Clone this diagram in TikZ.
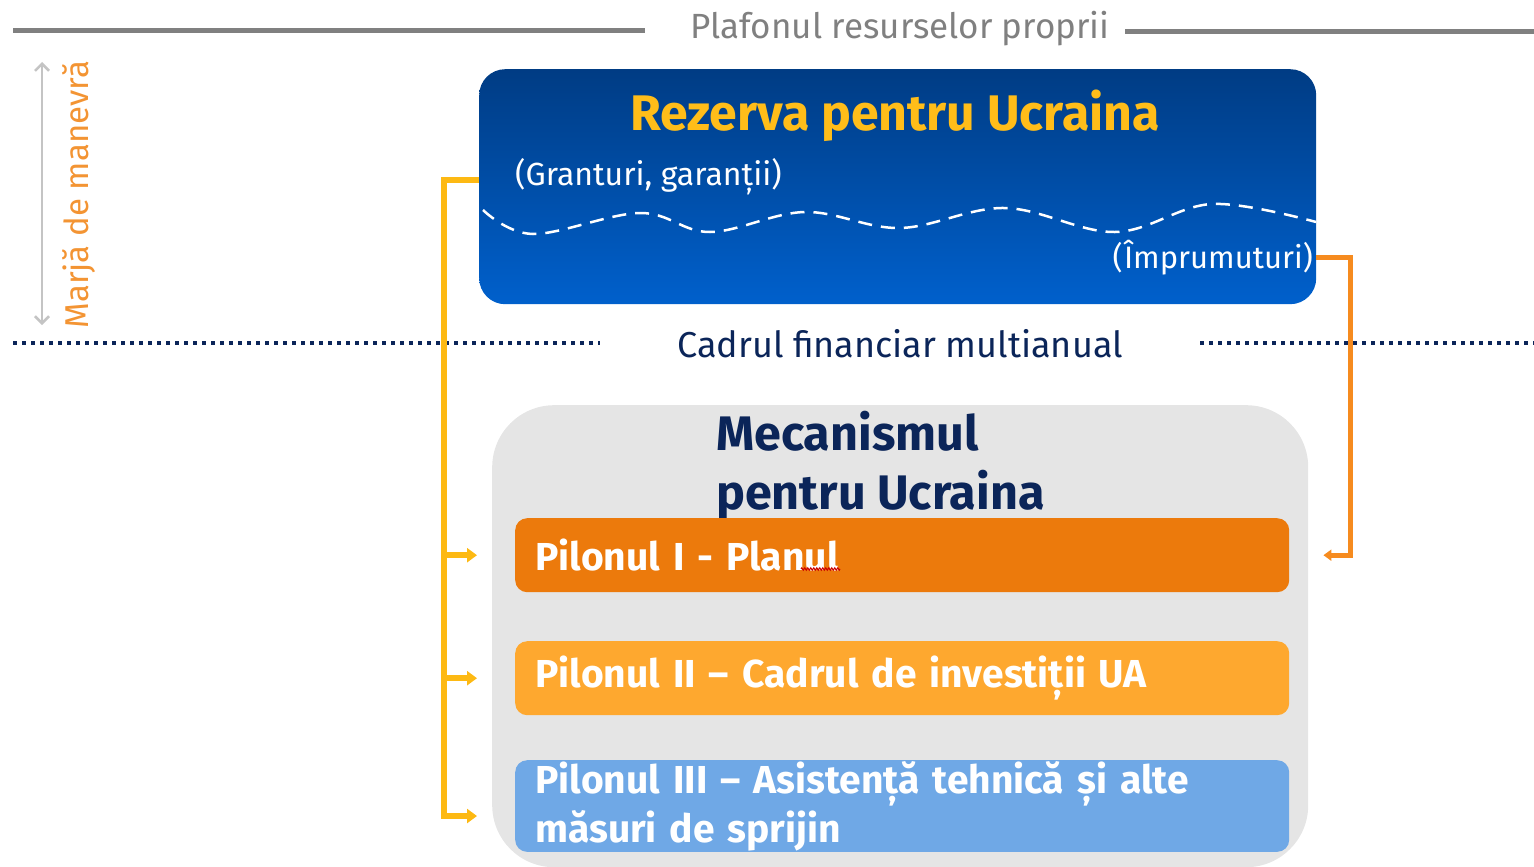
\documentclass[tikz,border=0pt]{standalone}
\usepackage{fontspec}
\setmainfont{Fira Sans}
\usetikzlibrary{arrows.meta,calc,decorations.pathmorphing}
\definecolor{gline}{HTML}{808080}
\definecolor{glight}{HTML}{C4C4C4}
\definecolor{morange}{HTML}{F39433}
\definecolor{btop}{HTML}{003C84}
\definecolor{bbot}{HTML}{0060CC}
\definecolor{ylw}{HTML}{FFBD19}
\definecolor{navy}{HTML}{0B2559}
\definecolor{mgray}{HTML}{E5E5E5}
\definecolor{p1c}{HTML}{EC7A0C}
\definecolor{p2c}{HTML}{FEA82F}
\definecolor{p3c}{HTML}{6FA8E6}
\definecolor{conO}{HTML}{F68B1F}
\definecolor{conY}{HTML}{FDB913}
\tikzset{
  pillar/.style={rounded corners=12pt, minimum width=774pt, text width=734pt, align=left, inner xsep=20pt, text=white, font=\fontsize{39}{49}\selectfont\bfseries, anchor=north west},
  yconn/.style={conY, line width=6pt, line join=miter},
  oconn/.style={conO, line width=5pt, line join=miter},
  dotline/.style={navy, line width=3.8pt, dash pattern=on 4pt off 5pt},
}
\begin{document}
\begin{tikzpicture}[x=1pt,y=-1pt]
\useasboundingbox (0,0) rectangle (1534,867);
% top ceiling
\node[text=gline, font=\fontsize{35}{40}\selectfont] (plaf) at (900,29) {Plafonul resurselor proprii};
\draw[gline, line width=5pt] (13,31) -- (645,31);
\draw[gline, line width=5pt] (1125,32) -- (1534,32);
% margin
\coordinate (ma) at (42,62);
\coordinate (mb) at (42,325);
\draw[glight, line width=2.5pt, {Straight Barb[length=7pt,width=14pt]}-{Straight Barb[length=7pt,width=14pt]}] (ma) -- (mb);
\node[text=morange, rotate=90, font=\fontsize{33}{40}\selectfont, anchor=west] (marja) at (79,332) {Marjă de manevră};
% reserve box
\node[rounded corners=26pt, top color=btop, bottom color=bbot, minimum width=837pt, minimum height=235pt, anchor=north west, inner sep=0pt] (rez) at (479,69) {};
\node[text=ylw, font=\fontsize{50}{56}\selectfont\bfseries] (rtitle) at (895,116) {Rezerva pentru Ucraina};
\node[text=white, font=\fontsize{32}{36}\selectfont, anchor=west, inner sep=0pt] (gr) at (515,177) {(Granturi, garanții)};
\node[text=white, font=\fontsize{31}{36}\selectfont, anchor=east, inner sep=0pt] (imp) at (1313,258) {(Împrumuturi)};
\draw[white, line width=2.5pt, dash pattern=on 14pt off 9pt] plot[smooth, tension=0.6] coordinates {(483,210) (533,234) (640,213) (710,232) (805,212) (900,228) (1005,208) (1115,232) (1212,204) (1316,222)};
% MFF line
\node[text=navy, font=\fontsize{36}{40}\selectfont] (mff) at (900,344) {Cadrul financiar multianual};
\draw[dotline] (13,343) -- (600,343);
\draw[dotline] (1200,343) -- (1534,343);
% mechanism box
\node[rounded corners=62pt, fill=mgray, minimum width=816pt, minimum height=462pt, anchor=north west, inner sep=0pt] (mec) at (492,405) {};
\node[text=navy, font=\fontsize{48.5}{59}\selectfont\bfseries, align=left, anchor=north west, inner sep=0pt] (mtitle) at (716,411) {Mecanismul\\pentru Ucraina};
% pillars
\node[pillar, fill=p1c, minimum height=74pt] (p1) at (515,518) {Pilonul I - Planul};
\node[pillar, fill=p2c, minimum height=74pt] (p2) at (515,641) {Pilonul II – Cadrul de investiții UA};
\node[pillar, fill=p3c, minimum height=90pt, inner ysep=1pt] (p3) at (515,760) {Pilonul III – Asistență tehnică și alte\\măsuri de sprijin};
% spell-check squiggle
\draw[red!80!black, line width=1pt, decorate, decoration={zigzag, amplitude=1.2pt, segment length=3pt}] (801,569) -- (840,569);
% yellow connector
\coordinate (yt) at (444,180);
\coordinate (p3a) at ([yshift=-10pt]p3.west);
\draw[yconn] (rez.west |- yt) -- (yt) -- (yt |- p3a) -- ([xshift=-43pt]p3a);
\draw[yconn, -{Triangle[length=10pt,width=14pt]}] (yt |- p1.west) -- ([xshift=-38pt]p1.west);
\draw[yconn, -{Triangle[length=10pt,width=14pt]}] (yt |- p2.west) -- ([xshift=-38pt]p2.west);
\draw[yconn, -{Triangle[length=10pt,width=14pt]}] (yt |- p3a) -- ([xshift=-38pt]p3a);
% orange connector
\coordinate (ot) at (1350,257);
\draw[oconn, -{Triangle[length=8pt,width=11pt]}] (rez.east |- ot) -- (ot) -- (ot |- p1.east) -- ([xshift=34pt]p1.east);
\end{tikzpicture}
\end{document}
